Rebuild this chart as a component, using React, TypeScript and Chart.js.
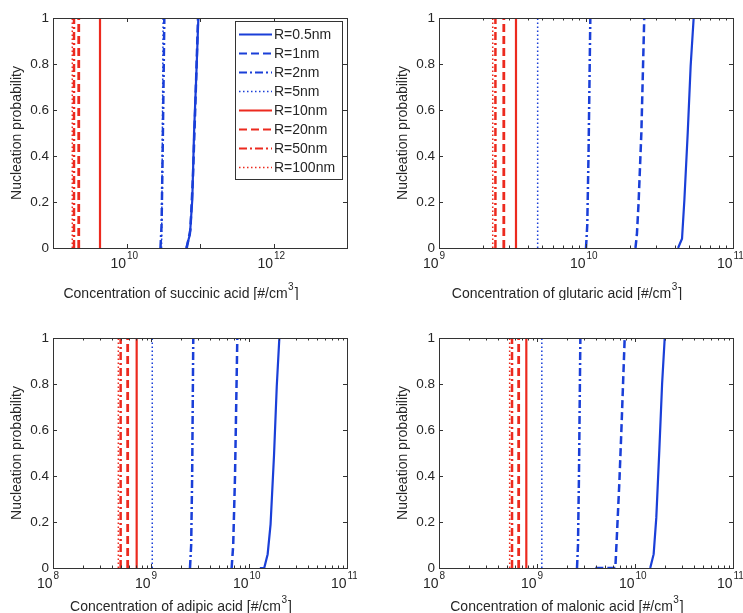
import React, { useEffect, useRef } from "react";
import { Chart, registerables } from "chart.js";
Chart.register(...registerables);

// ---------- data ----------
const radiusLabels = ["R=0.5nm", "R=1nm", "R=2nm", "R=5nm", "R=10nm", "R=20nm", "R=50nm", "R=100nm"];
const probabilityTicks = [0, 0.2, 0.4, 0.6, 0.8, 1];

// [concentration, probability] per radius (0.5, 1, 2, 5, 10, 20, 50, 100 nm)
const succinicSeries = [
  [[6.5e10, 0], [7.3e10, 0.06], [7.85e10, 0.21], [8.3e10, 0.5], [9.0e10, 0.79], [9.5e10, 1]],
  [[6.6e10, 0], [7.4e10, 0.08], [8.0e10, 0.3], [8.6e10, 0.6], [9.4e10, 1]],
  [[2.9e10, 0], [3.0e10, 0.1], [3.1e10, 0.4], [3.2e10, 0.75], [3.27e10, 1]],
  [[3.0e10, 0], [3.05e10, 0.3], [3.15e10, 1]],
  [[4.36e9, 0], [4.36e9, 1]],
  [[2.24e9, 0], [2.24e9, 1]],
  [[1.93e9, 0], [1.93e9, 1]],
  [[1.83e9, 0], [1.83e9, 1]],
];
const glutaricSeries = [
  [[4.23e10, 0], [4.5e10, 0.04], [4.67e10, 0.21], [4.92e10, 0.5], [5.15e10, 0.79], [5.4e10, 1]],
  [[2.17e10, 0], [2.22e10, 0.06], [2.28e10, 0.2], [2.38e10, 0.5], [2.49e10, 1]],
  [[1.0e10, 0], [1.02e10, 0.1], [1.04e10, 0.4], [1.07e10, 1]],
  [[4.69e9, 0], [4.69e9, 1]],
  [[3.34e9, 0], [3.34e9, 1]],
  [[2.76e9, 0], [2.76e9, 1]],
  [[2.42e9, 0], [2.42e9, 1]],
  [[2.32e9, 0], [2.32e9, 1]],
];
const adipicSeries = [
  [[1.29e10, 0], [1.43e10, 0], [1.55e10, 0.06], [1.66e10, 0.19], [1.8e10, 0.49], [1.92e10, 0.79], [2.04e10, 1]],
  [[6.65e9, 0], [6.9e9, 0.1], [7.2e9, 0.4], [7.6e9, 1]],
  [[2.5e9, 0], [2.57e9, 0.1], [2.63e9, 0.4], [2.7e9, 1]],
  [[1.03e9, 0], [1.03e9, 1]],
  [[7.14e8, 0], [7.14e8, 1]],
  [[5.78e8, 0], [5.78e8, 1]],
  [[4.9e8, 0], [4.9e8, 1]],
  [[4.64e8, 0], [4.64e8, 1]],
];
const malonicSeries = [
  [[1.43e10, 0], [1.55e10, 0.06], [1.65e10, 0.22], [1.77e10, 0.51], [1.89e10, 0.8], [2.01e10, 1]],
  [[3.94e9, 0], [6.3e9, 0], [6.55e9, 0.15], [6.92e9, 0.37], [7.25e9, 0.59], [7.85e9, 1]],
  [[2.56e9, 0], [2.62e9, 0.1], [2.68e9, 0.4], [2.77e9, 1]],
  [[1.12e9, 0], [1.12e9, 1]],
  [[7.78e8, 0], [7.78e8, 1]],
  [[6.5e8, 0], [6.5e8, 1]],
  [[5.56e8, 0], [5.56e8, 1]],
  [[5.26e8, 0], [5.26e8, 1]],
];

const succinicRange = [1e9, 1e13];
const glutaricRange = [1e9, 1e11];
const adipicRange = [1e8, 1e11];
const malonicRange = [1e8, 1e11];

const succinicLabelExps = [10, 12];
const glutaricLabelExps = [9, 10, 11];
const adipicLabelExps = [8, 9, 10, 11];
const malonicLabelExps = [8, 9, 10, 11];

// ---------- styles ----------
const BLUE = "#1a3fd8";
const RED = "#ec2a1f";
const seriesColors = [BLUE, BLUE, BLUE, BLUE, RED, RED, RED, RED];
const DASH_SOLID: number[] = [];
const DASH_DASHED = [8, 4];
const DASH_DASHDOT = [8, 3, 2, 3];
const DASH_DOTTED = [1.5, 2.5];
const seriesDashes = [DASH_SOLID, DASH_DASHED, DASH_DASHDOT, DASH_DOTTED, DASH_SOLID, DASH_DASHED, DASH_DASHDOT, DASH_DOTTED];
const seriesWidths = [2.2, 2.5, 2.5, 1.5, 2.2, 2.8, 2.5, 1.5];

const FAMILY = "'Liberation Sans', Arial, Helvetica, sans-serif";
const TEXT = "#262626";
const FRAME = "#333333";

type PanelCfg = {
  key: string;
  series: number[][][];
  range: number[];
  labelExps: number[];
  minor: boolean;
  title: string;
  legend: boolean;
  left: number;
  top: number;
  h: number;
  padBottom: number;
  titleOffset: number;
};

const panels: PanelCfg[] = [
  { key: "succinic", series: succinicSeries, range: succinicRange, labelExps: succinicLabelExps, minor: false, title: "Concentration of succinic acid [#/cm", legend: true, left: 0, top: 0, h: 300, padBottom: 52, titleOffset: 50 },
  { key: "glutaric", series: glutaricSeries, range: glutaricRange, labelExps: glutaricLabelExps, minor: true, title: "Concentration of glutaric acid [#/cm", legend: false, left: 386, top: 0, h: 300, padBottom: 52, titleOffset: 50 },
  { key: "adipic", series: adipicSeries, range: adipicRange, labelExps: adipicLabelExps, minor: true, title: "Concentration of adipic acid [#/cm", legend: false, left: 0, top: 320, h: 293, padBottom: 45, titleOffset: 43 },
  { key: "malonic", series: malonicSeries, range: malonicRange, labelExps: malonicLabelExps, minor: true, title: "Concentration of malonic acid [#/cm", legend: false, left: 386, top: 320, h: 293, padBottom: 45, titleOffset: 43 },
];

const CANVAS_W = 357;

const framePlugin = {
  id: "matlabFrame",
  afterDraw(chart: any, _args: any, opts: any) {
    const { ctx, chartArea: a, scales } = chart;
    const xs = scales.x;
    const ys = scales.y;
    const L = Math.round(a.left), R = Math.round(a.right), T = Math.round(a.top), B = Math.round(a.bottom);
    ctx.save();
    ctx.strokeStyle = FRAME;
    ctx.lineWidth = 1;
    ctx.setLineDash([]);
    ctx.strokeRect(L + 0.5, T + 0.5, R - L, B - T);

    ctx.beginPath();
    for (const v of probabilityTicks) {
      const y = Math.round(ys.getPixelForValue(v)) + 0.5;
      ctx.moveTo(L, y); ctx.lineTo(L + 4, y);
      ctx.moveTo(R, y); ctx.lineTo(R - 4, y);
    }
    const [xmin, xmax] = opts.range;
    const e0 = Math.floor(Math.log10(xmin));
    const e1 = Math.ceil(Math.log10(xmax));
    for (let e = e0; e <= e1; e++) {
      const dec = Math.pow(10, e);
      if (dec >= xmin && dec <= xmax) {
        const x = Math.round(xs.getPixelForValue(dec)) + 0.5;
        ctx.moveTo(x, B); ctx.lineTo(x, B - 4);
        ctx.moveTo(x, T); ctx.lineTo(x, T + 4);
      }
      if (opts.minor) {
        for (let k = 2; k <= 9; k++) {
          const v = k * dec;
          if (v > xmin && v < xmax) {
            const x = Math.round(xs.getPixelForValue(v)) + 0.5;
            ctx.moveTo(x, B); ctx.lineTo(x, B - 2.5);
            ctx.moveTo(x, T); ctx.lineTo(x, T + 2.5);
          }
        }
      }
    }
    ctx.stroke();

    // x tick labels 10^e
    ctx.fillStyle = TEXT;
    for (const e of opts.labelExps) {
      const x = xs.getPixelForValue(Math.pow(10, e));
      ctx.font = `14px ${FAMILY}`;
      ctx.textAlign = "right";
      ctx.textBaseline = "alphabetic";
      ctx.fillText("10", x - 0.5, B + 20);
      ctx.font = `10px ${FAMILY}`;
      ctx.textAlign = "left";
      ctx.fillText(String(e), x + 0.5, B + 11);
    }

    // x title with superscript
    const mainFont = `14px ${FAMILY}`;
    const supFont = `10px ${FAMILY}`;
    ctx.font = mainFont;
    const w1 = ctx.measureText(opts.title).width;
    const w3 = ctx.measureText("]").width;
    ctx.font = supFont;
    const w2 = ctx.measureText("3").width + 1.5;
    const total = w1 + w2 + w3;
    const cx = (a.left + a.right) / 2 - 19;
    const x0 = cx - total / 2;
    const base = B + opts.titleOffset;
    ctx.textAlign = "left";
    ctx.font = mainFont;
    ctx.fillText(opts.title, x0, base);
    ctx.font = supFont;
    ctx.fillText("3", x0 + w1 + 0.5, base - 8);
    ctx.font = mainFont;
    ctx.fillText("]", x0 + w1 + w2, base);

    // legend
    if (opts.legend) {
      const lx = R - 112, ly = T + 3, lw = 107, lh = 158;
      ctx.fillStyle = "#ffffff";
      ctx.fillRect(lx, ly, lw, lh);
      ctx.strokeStyle = FRAME;
      ctx.lineWidth = 1;
      ctx.strokeRect(lx + 0.5, ly + 0.5, lw, lh);
      chart.data.datasets.forEach((ds: any, i: number) => {
        const y = ly + 13.5 + i * 19;
        ctx.beginPath();
        ctx.strokeStyle = ds.borderColor;
        ctx.lineWidth = Math.min(ds.borderWidth, 2.2);
        ctx.setLineDash(ds.borderDash || []);
        ctx.moveTo(lx + 4, y);
        ctx.lineTo(lx + 37, y);
        ctx.stroke();
        ctx.setLineDash([]);
        ctx.fillStyle = TEXT;
        ctx.font = `14px ${FAMILY}`;
        ctx.textAlign = "left";
        ctx.textBaseline = "middle";
        ctx.fillText(ds.label, lx + 39, y + 0.5);
      });
    }
    ctx.restore();
  },
};

function Panel({ cfg }: { cfg: PanelCfg }) {
  const ref = useRef<HTMLCanvasElement>(null);
  useEffect(() => {
    const canvas = ref.current!;
    const chart = new Chart(canvas, {
      type: "line",
      data: {
        datasets: cfg.series.map((pts, i) => ({
          label: radiusLabels[i],
          data: pts.map(([x, y]) => ({ x, y })),
          borderColor: seriesColors[i],
          backgroundColor: seriesColors[i],
          borderDash: seriesDashes[i],
          borderWidth: seriesWidths[i],
          pointRadius: 0,
          fill: false,
          tension: 0,
          order: -i,
        })),
      },
      options: {
        animation: false,
        responsive: false,
        events: [],
        layout: { padding: { left: 0, top: 18, right: CANVAS_W - 347, bottom: cfg.padBottom } },
        plugins: {
          legend: { display: false },
          tooltip: { enabled: false },
          matlabFrame: {
            range: cfg.range,
            labelExps: cfg.labelExps,
            minor: cfg.minor,
            title: cfg.title,
            legend: cfg.legend,
            titleOffset: cfg.titleOffset,
          },
        } as any,
        scales: {
          x: {
            type: "logarithmic",
            min: cfg.range[0],
            max: cfg.range[1],
            ticks: { display: false },
            grid: { display: false, drawTicks: false },
            border: { display: false },
            afterFit: (s: any) => { s.height = 0; },
          },
          y: {
            type: "linear",
            min: 0,
            max: 1,
            ticks: {
              stepSize: 0.2,
              padding: 4,
              color: TEXT,
              font: { family: FAMILY, size: 13.5 },
              callback: (v: any) => String(Math.round(Number(v) * 10) / 10),
            },
            grid: { display: false, drawTicks: false },
            border: { display: false },
            title: {
              display: true,
              text: "Nucleation probability",
              color: TEXT,
              font: { family: FAMILY, size: 14 },
              padding: { top: 8.5, bottom: 0 },
            },
            afterFit: (s: any) => { s.width = 53; },
          },
        },
      } as any,
      plugins: [framePlugin],
    });
    return () => chart.destroy();
  }, [cfg]);
  return (
    <canvas
      ref={ref}
      width={CANVAS_W}
      height={cfg.h}
      style={{ position: "absolute", left: cfg.left, top: cfg.top, width: CANVAS_W, height: cfg.h }}
    />
  );
}

export default function App() {
  return (
    <div style={{ position: "absolute", left: 0, top: 0, width: 743, height: 613, background: "#ffffff", overflow: "hidden" }}>
      {panels.map((p) => (
        <Panel key={p.key} cfg={p} />
      ))}
    </div>
  );
}
